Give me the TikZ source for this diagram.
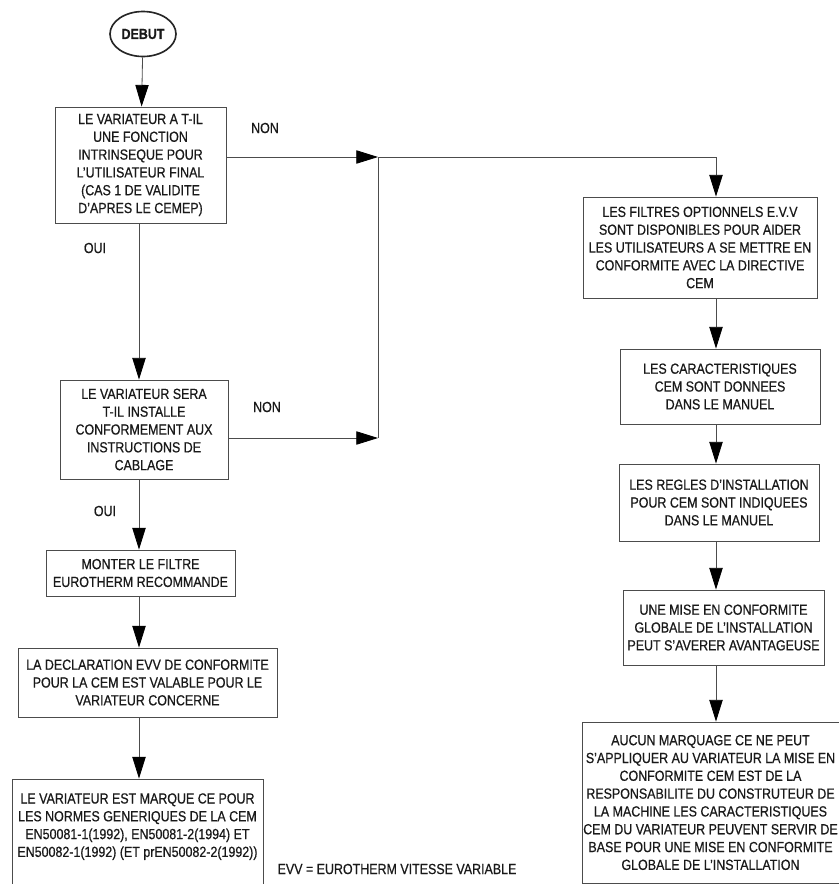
\documentclass[tikz,border=0pt]{standalone}
\usepackage{fontspec}
\setmainfont{Liberation Sans}[FakeStretch=0.85, FakeBold=0.6]
\usetikzlibrary{shapes.geometric,arrows.meta}

\begin{document}
\begin{tikzpicture}[x=0.03cm, y=-0.03cm,
    box/.style = {draw=black!70, line width=0.7pt, align=center, inner sep=1pt, text=black!90},
    arr/.style = {draw=black!70, line width=0.7pt, -{Triangle[length=6.5mm, width=4mm, color=black, fill=black]}},
    wire/.style = {draw=black!70, line width=0.7pt},
    lbl/.style = {text=black!90}]
  \tikzset{every node/.style={font=\fontsize{12.5}{15.2}\selectfont}}
  \useasboundingbox (0,0) rectangle (839,884);

  % columns and junctions
  \coordinate (lcol) at (139,0);
  \coordinate (rcol) at (716,0);
  \coordinate (j1) at (378,157);
  \coordinate (j2) at (378,438);

  % left column
  \node[ellipse, draw=black!85, line width=1.4pt, minimum width=1.98cm, minimum height=1.35cm,
        inner sep=0pt, text=black!90, font=\fontsize{12.5}{15.2}\selectfont\bfseries] (debut) at (143,34) {DEBUT};
  \node[box, minimum width=5.13cm, minimum height=3.48cm] (q1) at (140.5,165)
    {LE VARIATEUR A T-IL\\ UNE FONCTION\\ INTRINSEQUE POUR\\ L'UTILISATEUR FINAL\\ (CAS 1 DE VALIDITE\\ D'APRES LE CEMEP)};
  \node[box, minimum width=5.04cm, minimum height=2.97cm] (q2) at (144,429.5)
    {LE VARIATEUR SERA\\ T-IL INSTALLE\\ CONFORMEMENT AUX\\ INSTRUCTIONS DE\\ CABLAGE};
  \node[box, minimum width=5.67cm, minimum height=1.38cm] (filtre) at (140.5,573)
    {MONTER LE FILTRE\\ EUROTHERM RECOMMANDE};
  \node[box, minimum width=7.77cm, minimum height=2.07cm] (decl) at (147.5,682.5)
    {LA DECLARATION EVV DE CONFORMITE\\ POUR LA CEM EST VALABLE POUR LE\\ VARIATEUR CONCERNE};
  \node[box, minimum width=7.53cm, minimum height=3.3cm] (marque) at (137.5,834)
    {LE VARIATEUR EST MARQUE CE POUR\\ LES NORMES GENERIQUES DE LA CEM\\ EN50081-1(1992), EN50081-2(1994) ET\\ EN50082-1(1992) (ET prEN50082-2(1992))\\ \mbox{}};

  % right column
  \node[box, minimum width=7.02cm, minimum height=3.03cm] (filtA) at (700,247.5)
    {LES FILTRES OPTIONNELS E.V.V\\ SONT DISPONIBLES POUR AIDER\\ LES UTILISATEURS A SE METTRE EN\\ CONFORMITE AVEC LA DIRECTIVE\\ CEM};
  \node[box, minimum width=6cm, minimum height=2.25cm] (caract) at (720,386.5)
    {LES CARACTERISTIQUES\\ CEM SONT DONNEES\\ DANS LE MANUEL};
  \node[box, minimum width=6cm, minimum height=2.31cm] (regles) at (719,502.5)
    {LES REGLES D'INSTALLATION\\ POUR CEM SONT INDIQUEES\\ DANS LE MANUEL};
  \node[box, minimum width=6.03cm, minimum height=2.25cm] (mise) at (723.5,627.5)
    {UNE MISE EN CONFORMITE\\ GLOBALE DE L'INSTALLATION\\ PEUT S'AVERER AVANTAGEUSE};
  \node[box, minimum width=7.65cm, minimum height=4.83cm] (aucun) at (710.5,802.5)
    {AUCUN MARQUAGE CE NE PEUT\\ S'APPLIQUER AU VARIATEUR LA MISE EN\\ CONFORMITE CEM EST DE LA\\ RESPONSABILITE DU CONSTRUTEUR DE\\ LA MACHINE LES CARACTERISTIQUES\\ CEM DU VARIATEUR PEUVENT SERVIR DE\\ BASE POUR UNE MISE EN CONFORMITE\\ GLOBALE DE L'INSTALLATION};

  % labels
  \node[lbl] (non1) at (265,128) {NON};
  \node[lbl] (non2) at (267,407) {NON};
  \node[lbl] (oui1) at (95,248) {OUI};
  \node[lbl] (oui2) at (105,511) {OUI};
  \node[lbl] (evv) at (397,869) {EVV = EUROTHERM VITESSE VARIABLE};

  % connectors
  \draw[arr] (debut) -- (q1);
  \draw[arr] (lcol |- q1.south) -- (lcol |- q2.north);
  \draw[arr] (lcol |- q2.south) -- (lcol |- filtre.north);
  \draw[arr] (lcol |- filtre.south) -- (lcol |- decl.north);
  \draw[arr] (lcol |- decl.south) -- (lcol |- marque.north);
  \draw[arr] (q1.east |- j1) -- (j1);
  \draw[arr] (q2.east |- j2) -- (j2);
  \draw[wire] (j2) -- (j1) -- (rcol |- j1);
  \draw[arr] (rcol |- j1) -- (rcol |- filtA.north);
  \draw[arr] (rcol |- filtA.south) -- (rcol |- caract.north);
  \draw[arr] (rcol |- caract.south) -- (rcol |- regles.north);
  \draw[arr] (rcol |- regles.south) -- (rcol |- mise.north);
  \draw[arr] (rcol |- mise.south) -- (rcol |- aucun.north);
\end{tikzpicture}
\end{document}
